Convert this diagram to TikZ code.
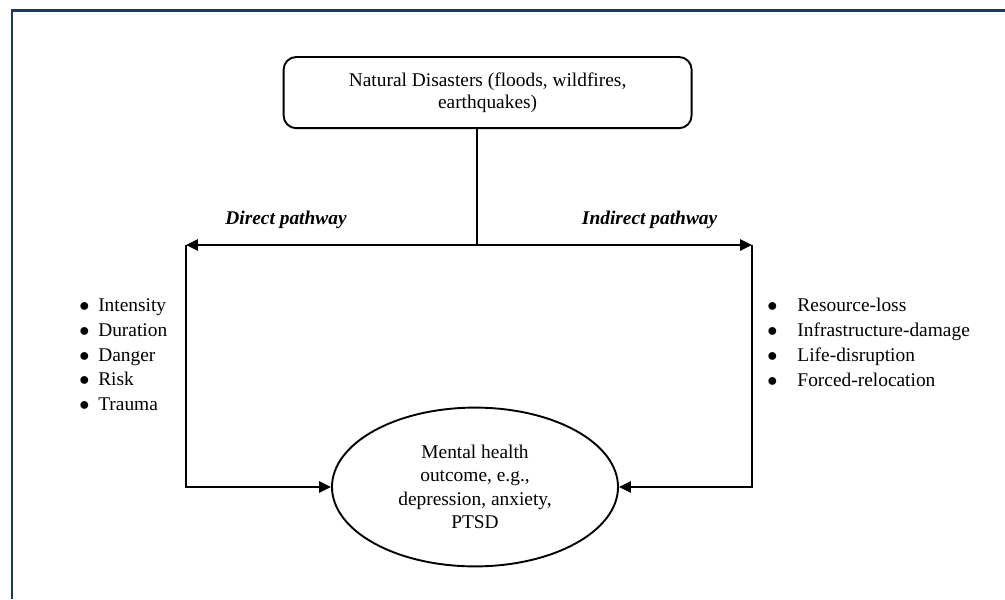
\documentclass[tikz,border=0pt]{standalone}
\usepackage{fontspec}
\setmainfont{Liberation Serif}
\usetikzlibrary{arrows.meta, shapes.geometric, calc}
\usepackage{xcolor}
\definecolor{bFrame}{HTML}{1E3A56}
\definecolor{bLine} {HTML}{000000}
\tikzset{
  txt/.style={font=\fontsize{13.8}{16.6}\selectfont, align=center},
  srcbox/.style={txt, font=\fontsize{13.8}{15.8}\selectfont, draw=bLine,
                 rounded corners=9pt, line width=1.35pt,
                 minimum width=10.2cm, minimum height=1.78cm, inner sep=4pt},
  outell/.style={txt, ellipse, draw=bLine, line width=1.35pt,
                 minimum width=7.15cm, minimum height=3.97cm, inner sep=0pt},
  ln/.style={draw=bLine, line width=1.35pt},
  arr/.style={ln, -{Triangle[length=8.5pt,width=8pt]}},
  pathlbl/.style={font=\fontsize{13.8}{16.8}\selectfont\bfseries\itshape},
  lst/.style={font=\fontsize{13.8}{17.7}\selectfont, align=left,
              anchor=north west, inner sep=0pt},
}
\newcommand{\itm}[2]{\makebox[#1][l]{$\bullet$}#2}

\begin{document}
\begin{tikzpicture}

% ── Canvas and frame ──────────────────────────────────────────────────────────
\useasboundingbox (0,0) rectangle (25.125,14.975);
\draw[draw=bFrame, line width=1.8pt] (0.3,0) -- (0.3,14.71) -- (25.125,14.71);

% ── Y levels ──────────────────────────────────────────────────────────────────
\def\ytop{12.66}
\def\yarr{8.85}
\def\ybot{2.8}

% ── Nodes ─────────────────────────────────────────────────────────────────────

\node[srcbox] (dis) at (12.19, \ytop)
  {Natural Disasters (floods, wildfires,\\earthquakes)};

\node[outell] (mh) at (11.875, \ybot)
  {Mental health\\outcome, e.g.,\\depression, anxiety,\\PTSD};

\coordinate (jn) at (11.92, \yarr);
\coordinate (lc) at (4.65, \yarr);
\coordinate (rc) at (18.8, \yarr);

\node[pathlbl] (dlbl) at (7.15, 9.475)   {Direct pathway};
\node[pathlbl] (ilbl) at (16.24, 9.475)  {Indirect pathway};

\node[lst] (dlist) at (1.98, 7.52)
  {\itm{0.47cm}{Intensity}\\\itm{0.47cm}{Duration}\\\itm{0.47cm}{Danger}\\
   \itm{0.47cm}{Risk}\\\itm{0.47cm}{Trauma}};

\node[lst] (ilist) at (19.18, 7.52)
  {\itm{0.75cm}{Resource-loss}\\\itm{0.75cm}{Infrastructure-damage}\\
   \itm{0.75cm}{Life-disruption}\\\itm{0.75cm}{Forced-relocation}};

% ── Arrows ────────────────────────────────────────────────────────────────────

% Stem from the disaster box to the split
\draw[ln] (dis.south -| jn) -- (jn);

% Split into both pathways
\draw[arr] (jn) -- (lc);
\draw[arr] (jn) -- (rc);

% Down and into the outcome
\draw[arr] (lc) |- (mh.west);
\draw[arr] (rc) |- (mh.east);

\end{tikzpicture}
\end{document}
